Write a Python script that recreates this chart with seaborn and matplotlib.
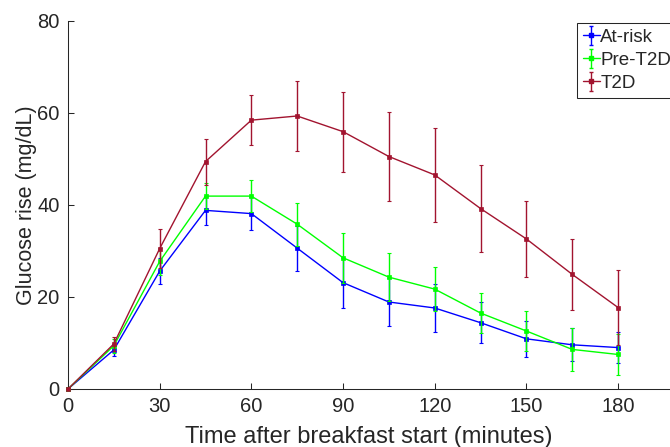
import numpy as np
import pandas as pd
import matplotlib
matplotlib.use("Agg")
import matplotlib.pyplot as plt
import seaborn as sns
from matplotlib.lines import Line2D
from matplotlib.collections import LineCollection
from matplotlib.container import ErrorbarContainer

# ---- data ----
times = [0, 15, 30, 45, 60, 75, 90, 105, 120, 135, 150, 165, 180]
groups = ["At-risk", "Pre-T2D", "T2D"]
at_risk = [0, 8.5, 25.6, 38.8, 38.1, 30.6, 23.1, 18.9, 17.6, 14.4, 10.9, 9.6, 9.0]
at_risk_err = [0, 1.3, 2.9, 3.2, 3.5, 4.9, 5.4, 5.2, 5.2, 4.5, 3.9, 3.6, 3.4]
pre_t2d = [0, 9.4, 27.7, 41.9, 41.9, 35.8, 28.5, 24.3, 21.7, 16.5, 12.6, 8.6, 7.5]
pre_t2d_err = [0, 1.5, 3.0, 2.8, 3.5, 4.7, 5.4, 5.2, 4.7, 4.3, 4.4, 4.6, 4.5]
t2d = [0, 9.8, 30.5, 49.4, 58.4, 59.3, 55.9, 50.5, 46.5, 39.2, 32.6, 24.9, 17.7]
t2d_err = [0, 1.5, 4.3, 5.0, 5.5, 7.7, 8.7, 9.6, 10.3, 9.4, 8.3, 7.7, 8.1]
x_ticks = [0, 30, 60, 90, 120, 150, 180]
y_ticks = [0, 20, 40, 60, 80]

colors = {"At-risk": "#0000ff", "Pre-T2D": "#00ff00", "T2D": "#a2142f"}
values = {"At-risk": at_risk, "Pre-T2D": pre_t2d, "T2D": t2d}
errors = {"At-risk": at_risk_err, "Pre-T2D": pre_t2d_err, "T2D": t2d_err}

df = pd.concat([
    pd.DataFrame({"time": times, "rise": values[g], "err": errors[g], "group": g})
    for g in groups
], ignore_index=True)

sns.set_style("ticks")
plt.rcParams['font.family'] = ['Liberation Sans', 'DejaVu Sans']

fig = plt.figure(figsize=(6.7, 4.47), dpi=100)
ax = fig.add_axes([68 / 670, 58 / 447, 602 / 670, 368.3 / 447])

sns.lineplot(data=df, x="time", y="rise", hue="group", hue_order=groups,
             palette=colors, marker="s", markersize=3.5, linewidth=1.0,
             errorbar=None, legend=False, ax=ax, clip_on=False)

for i, line in enumerate(ax.lines):
    line.set_markeredgecolor(line.get_color())
    line.set_markeredgewidth(0.5)
    line.set_zorder(3 + i)

handles = []
for i, g in enumerate(groups):
    sub = df[df["group"] == g]
    ax.errorbar(sub["time"], sub["rise"], yerr=sub["err"], fmt="none",
                ecolor=colors[g], elinewidth=1.0, capsize=1.6, capthick=0.8,
                clip_on=False, zorder=3 + i + 0.5)
    pl = Line2D([], [], color=colors[g], lw=1.0, marker="s", markersize=2.5)
    cap = Line2D([], [], color=colors[g], marker="_", markersize=3.5, lw=0)
    bar = LineCollection([], colors=colors[g], linewidths=1.0)
    handles.append(ErrorbarContainer((pl, (cap, cap), [bar]), has_xerr=False,
                                     has_yerr=True, label=g))

ax.set_xlim(0, 197)
ax.set_ylim(0, 80)
ax.set_xticks(x_ticks)
ax.set_yticks(y_ticks)
ax.tick_params(direction="in", length=4.5, width=0.75, labelsize=14.5,
               pad=6, color="#262626", labelcolor="#262626")
for s in ["top", "right"]:
    ax.spines[s].set_visible(False)
for s in ["left", "bottom"]:
    ax.spines[s].set_linewidth(0.75)
    ax.spines[s].set_color("#262626")

ax.set_xlabel("Time after breakfast start (minutes)", fontsize=17,
              color="#262626", labelpad=7)
ax.set_ylabel("Glucose rise (mg/dL)", fontsize=15.5, color="#262626",
              labelpad=0.5)

leg = ax.legend(handles=handles, labels=groups, loc="upper left",
                bbox_to_anchor=(577 / 670, 1 - 23 / 447),
                bbox_transform=fig.transFigure, frameon=True, fancybox=False,
                edgecolor="#262626", framealpha=1, fontsize=13.5,
                handlelength=0.9, handletextpad=0.05, labelspacing=0.32,
                borderpad=0.3, borderaxespad=0)
leg.get_frame().set_linewidth(0.75)

fig.savefig("out.png", dpi=100)
